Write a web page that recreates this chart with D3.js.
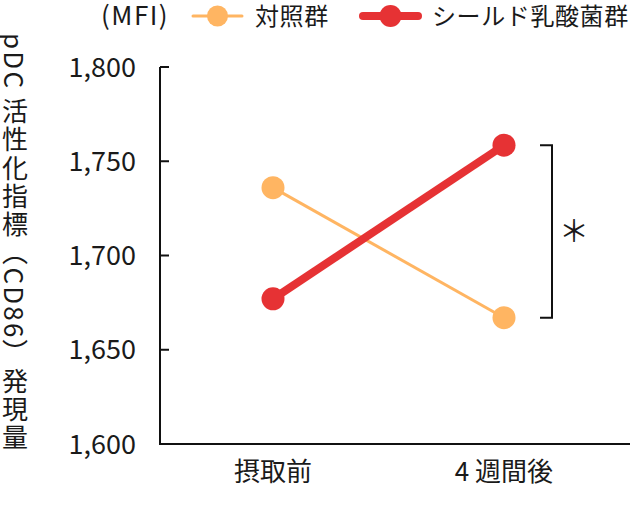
<!DOCTYPE html>
<html>
<head>
<meta charset="utf-8">
<script src="https://cdn.jsdelivr.net/npm/d3@7"></script>
<style>
  body { margin: 0; background: #fff; }
  text { font-family: "Noto Sans CJK JP", "Noto Sans", sans-serif; fill: #1a1a1a; }
</style>
</head>
<body>
<svg id="chart" width="630" height="512"></svg>
<script>
// data
var periods = ["摂取前", "4 週間後"];
var controlValues = [1736, 1667];
var shieldValues = [1677, 1758.5];
var yTicks = [1600, 1650, 1700, 1750, 1800];
var seriesNames = ["対照群", "シールド乳酸菌群"];

var svg = d3.select("#chart");

var xScale = d3.scalePoint()
    .domain(periods)
    .range([273, 504]);

var yScale = d3.scaleLinear()
    .domain([1600, 1800])
    .range([444, 67]);

var axisX = 160;

// y axis line + x axis line
svg.append("line")
    .attr("x1", axisX).attr("x2", axisX)
    .attr("y1", yScale(1800)).attr("y2", yScale(1600))
    .style("stroke", "#111").style("stroke-width", 2);

svg.append("line")
    .attr("x1", axisX - 1).attr("x2", 630)
    .attr("y1", yScale(1600)).attr("y2", yScale(1600))
    .style("stroke", "#111").style("stroke-width", 2);

// ticks pointing inward
svg.selectAll(".tick")
    .data(yTicks)
    .enter()
    .append("line")
    .attr("class", "tick")
    .attr("x1", axisX).attr("x2", axisX + 9)
    .attr("y1", function(d){ return yScale(d); })
    .attr("y2", function(d){ return yScale(d); })
    .style("stroke", "#111").style("stroke-width", 2);

svg.selectAll(".tickLabel")
    .data(yTicks)
    .enter()
    .append("text")
    .attr("class", "tickLabel")
    .attr("x", 136)
    .attr("y", function(d){ return yScale(d); })
    .attr("dy", "0.36em")
    .attr("text-anchor", "end")
    .style("font-size", "27px")
    .text(function(d){ return d3.format(",")(d); });

// x labels
svg.selectAll(".xLabel")
    .data(periods)
    .enter()
    .append("text")
    .attr("class", "xLabel")
    .attr("x", function(d){ return xScale(d); })
    .attr("y", 472)
    .attr("dy", "0.36em")
    .attr("text-anchor", "middle")
    .style("font-size", "26px")
    .text(function(d){ return d; });

// y title, vertical
svg.append("text")
    .attr("x", 15)
    .attr("y", 33)
    .style("writing-mode", "vertical-rl")
    .style("font-size", "26px")
    .style("letter-spacing", "2.2px")
    .text("pDC 活性化指標（CD86）発現量");

// series
var series = [
    {name: seriesNames[0], values: controlValues, color: "#FFB562", width: 3},
    {name: seriesNames[1], values: shieldValues, color: "#E63234", width: 8}
];

var line = d3.line()
    .x(function(d, i){ return xScale(periods[i]); })
    .y(function(d){ return yScale(d); });

series.forEach(function(s)
{
    svg.append("path")
        .datum(s.values)
        .attr("d", line)
        .style("fill", "none")
        .style("stroke", s.color)
        .style("stroke-width", s.width);

    svg.selectAll(null)
        .data(s.values)
        .enter()
        .append("circle")
        .attr("cx", function(d, i){ return xScale(periods[i]); })
        .attr("cy", function(d){ return yScale(d); })
        .attr("r", 11.5)
        .style("fill", s.color);
});

// significance bracket between the 4-week values
var bx = 552;
var bTop = yScale(shieldValues[1]);
var bBot = yScale(controlValues[1]);
svg.append("path")
    .attr("d", "M" + (bx - 12) + "," + bTop + "H" + bx + "V" + bBot + "H" + (bx - 12))
    .style("fill", "none")
    .style("stroke", "#111")
    .style("stroke-width", 2);

svg.append("text")
    .attr("x", 574)
    .attr("y", (bTop + bBot) / 2)
    .attr("dy", "0.36em")
    .attr("text-anchor", "middle")
    .style("font-size", "30px")
    .text("＊");

// legend
svg.append("text")
    .attr("x", 101)
    .attr("y", 16)
    .attr("dy", "0.36em")
    .style("font-size", "26px")
    .style("letter-spacing", "1.5px")
    .text("(MFI)");

var legendItems = [
    {x: 193, len: 49, text: 255, color: "#FFB562", width: 3, r: 10.5, name: seriesNames[0]},
    {x: 363, len: 55, text: 432, color: "#E63234", width: 8, r: 11, name: seriesNames[1]}
];

var entries = svg.selectAll(".legend")
    .data(legendItems)
    .enter()
    .append("g")
    .attr("class", "legend");

entries.append("line")
    .attr("x1", function(d){ return d.x; })
    .attr("x2", function(d){ return d.x + d.len; })
    .attr("y1", 16).attr("y2", 16)
    .style("stroke", function(d){ return d.color; })
    .style("stroke-width", function(d){ return d.width; })
    .style("stroke-linecap", "round");

entries.append("circle")
    .attr("cx", function(d){ return d.x + d.len / 2; })
    .attr("cy", 16)
    .attr("r", function(d){ return d.r; })
    .style("fill", function(d){ return d.color; });

entries.append("text")
    .attr("x", function(d){ return d.text; })
    .attr("y", 16)
    .attr("dy", "0.36em")
    .style("font-size", "24px")
    .style("letter-spacing", "0.6px")
    .text(function(d){ return d.name; });
</script>
</body>
</html>
